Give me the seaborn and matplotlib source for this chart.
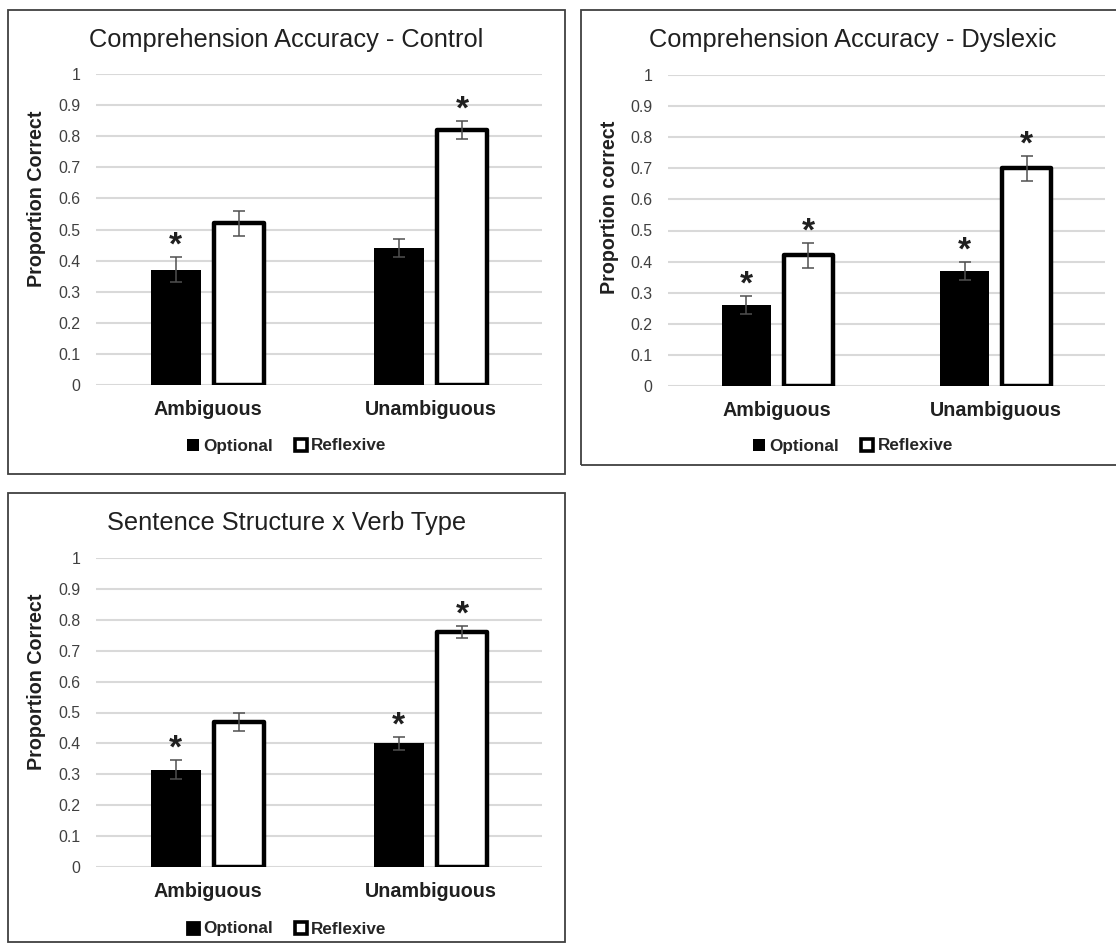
import matplotlib
matplotlib.use("Agg")
import matplotlib.pyplot as plt
from matplotlib.patches import Rectangle, Patch
import seaborn as sns
import pandas as pd

# data
structures = ["Ambiguous", "Unambiguous"]
verb_types = ["Optional", "Reflexive"]

control_optional = [0.37, 0.44]
control_reflexive = [0.52, 0.82]
control_optional_err = [0.04, 0.03]
control_reflexive_err = [0.04, 0.03]
control_optional_star = [True, False]
control_reflexive_star = [False, True]

dyslexic_optional = [0.26, 0.37]
dyslexic_reflexive = [0.42, 0.70]
dyslexic_optional_err = [0.03, 0.03]
dyslexic_reflexive_err = [0.04, 0.04]
dyslexic_optional_star = [True, True]
dyslexic_reflexive_star = [True, True]

overall_optional = [0.315, 0.40]
overall_reflexive = [0.47, 0.76]
overall_optional_err = [0.03, 0.02]
overall_reflexive_err = [0.03, 0.02]
overall_optional_star = [True, True]
overall_reflexive_star = [False, True]

yticks = [0, 0.1, 0.2, 0.3, 0.4, 0.5, 0.6, 0.7, 0.8, 0.9, 1]
ytick_labels = ["0", "0.1", "0.2", "0.3", "0.4", "0.5", "0.6", "0.7", "0.8", "0.9", "1"]

sns.set_theme(style="white")
plt.rcParams["font.family"] = ["Liberation Sans", "DejaVu Sans"]

W, H = 1116, 948
fig = plt.figure(figsize=(W / 100, H / 100), dpi=100)


def px_rect(x0, y0, x1, y1):
    # pixel box (top-left origin) -> figure fraction [l, b, w, h]
    return [x0 / W, 1 - y1 / H, (x1 - x0) / W, (y1 - y0) / H]


def draw_panel(frame, axbox, title, ylabel, ylabel_y, legend_y, opt, refl, opt_err, refl_err, opt_star, refl_star, small_key=True):
    fx0, fy0, fx1, fy1 = frame
    fig.patches.append(Rectangle((fx0 / W, 1 - fy1 / H), (fx1 - fx0) / W, (fy1 - fy0) / H,
                                 transform=fig.transFigure, fill=False,
                                 edgecolor="#404040", linewidth=1.3, zorder=0))
    ax = fig.add_axes(px_rect(*axbox))

    df = pd.DataFrame({
        "structure": structures * 2,
        "verb": [verb_types[0]] * 2 + [verb_types[1]] * 2,
        "accuracy": opt + refl,
    })
    sns.barplot(data=df, x="structure", y="accuracy", hue="verb", order=structures,
                hue_order=verb_types, palette={"Optional": "black", "Reflexive": "white"},
                width=0.57, gap=0.21, errorbar=None, legend=False, ax=ax, zorder=3)

    errs = [opt_err, refl_err]
    stars = [opt_star, refl_star]
    bar_groups = list(ax.containers)[:2]
    for k, cont in enumerate(bar_groups):
        for j, bar in enumerate(cont):
            bar.set_edgecolor("black")
            if k == 1:
                bar.set_linewidth(3.2)
                bar.set_joinstyle("round")
            else:
                bar.set_linewidth(0)
            xc = bar.get_x() + bar.get_width() / 2
            yv = bar.get_height()
            ax.errorbar(xc, yv, yerr=errs[k][j], color="#505050", elinewidth=1.1,
                        capsize=4, capthick=1.1, zorder=5)
            if stars[k][j]:
                ax.text(xc, yv + errs[k][j] + 0.008, "*", ha="center", va="baseline",
                        fontsize=24, fontweight="bold", color="#202020", zorder=6)

    ax.set_ylim(0, 1)
    ax.set_xlim(-0.5, 1.5)
    ax.set_yticks(yticks)
    ax.set_yticklabels(ytick_labels, fontsize=11.4, color="#404040")
    ax.yaxis.grid(True, color="#d9d9d9", linewidth=1.5, zorder=0)
    ax.set_axisbelow(True)
    for s in ax.spines.values():
        s.set_visible(False)
    ax.tick_params(axis="y", length=0, pad=11)
    ax.tick_params(axis="x", length=0, pad=11)
    for lab in ax.get_xticklabels():
        lab.set_fontsize(14.2)
        lab.set_fontweight("bold")
        lab.set_color("#202020")
    ax.set_xlabel("")
    ax.set_ylabel(ylabel, fontsize=14.2, fontweight="bold", color="#202020")
    ax.yaxis.set_label_coords((frame[0] + 38 - axbox[0]) / (axbox[2] - axbox[0]), ylabel_y)

    cx = (fx0 + fx1) / 2 / W
    fig.text(cx, 1 - (fy0 + 30) / H, title, ha="center", va="center", fontsize=18.3, color="#202020")

    handles = [Patch(facecolor="black", edgecolor="black", linewidth=0 if small_key else 2),
               Patch(facecolor="white", edgecolor="black", linewidth=2.6)]
    fig.legend(handles, verb_types, loc="center", bbox_to_anchor=(cx, 1 - legend_y / H),
               ncol=2, frameon=False, handlelength=0.7, handleheight=0.7,
               handletextpad=0.25, columnspacing=1.3,
               prop={"weight": "bold", "size": 12.3})
    return ax


draw_panel((8, 10, 565, 474), (96, 74, 542, 385), "Comprehension Accuracy - Control",
           "Proportion Correct", 0.60, 446,
           control_optional, control_reflexive, control_optional_err, control_reflexive_err,
           control_optional_star, control_reflexive_star)

draw_panel((581, 10, 1125, 465), (668, 75, 1105, 386), "Comprehension Accuracy - Dyslexic",
           "Proportion correct", 0.576, 446,
           dyslexic_optional, dyslexic_reflexive, dyslexic_optional_err, dyslexic_reflexive_err,
           dyslexic_optional_star, dyslexic_reflexive_star)

draw_panel((8, 493, 565, 942), (96, 558, 542, 867), "Sentence Structure x Verb Type",
           "Proportion Correct", 0.60, 929,
           overall_optional, overall_reflexive, overall_optional_err, overall_reflexive_err,
           overall_optional_star, overall_reflexive_star, small_key=False)

fig.savefig("out.png", dpi=100, facecolor="white")
